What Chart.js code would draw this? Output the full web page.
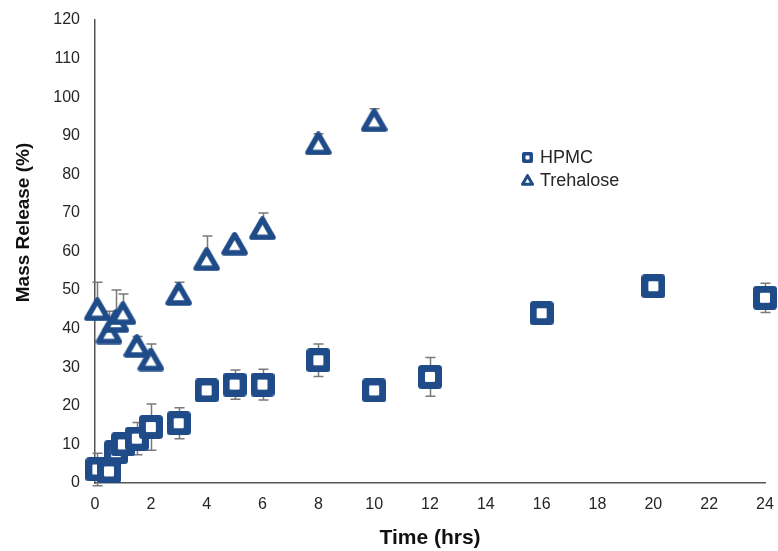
<!DOCTYPE html>
<html>
<head>
<meta charset="utf-8">
<title>Mass Release</title>
<script src="https://cdn.jsdelivr.net/npm/chart.js@4.4.1/dist/chart.umd.min.js"></script>
<style>
  html, body { margin: 0; padding: 0; background: #ffffff; }
  #wrap { width: 778px; height: 551px; }
</style>
</head>
<body>
<div id="wrap"><canvas id="chart" width="778" height="551"></canvas></div>
<script>
// Sampling times (hours) and mean mass release (%) with standard deviations
const timesHPMC = [0.083, 0.5, 0.75, 1, 1.5, 2, 3, 4, 5, 6, 8, 10, 12, 16, 20, 24];
const releaseHPMC = [3.5, 3, 8, 10, 11.5, 14.5, 15.5, 24, 25.5, 25.5, 31.8, 24, 27.5, 44, 51, 48];
const errorHPMC = [4.2, 1, 3, 2, 4.2, 6, 4, 0.5, 3.8, 4, 4.2, 0.5, 5, 0.5, 0.8, 3.8];

const timesTrehalose = [0.083, 0.5, 0.75, 1, 1.5, 2, 3, 4, 5, 6, 8, 10];
const releaseTrehalose = [45, 39, 42, 44, 35.5, 32, 49, 58, 62, 66, 88, 94];
const errorTrehalose = [7, 5.5, 8, 5, 2.5, 4, 3, 6, 1, 4, 2.5, 3];

// Axis tick values
const xTicks = [0, 2, 4, 6, 8, 10, 12, 14, 16, 18, 20, 22, 24];
const yTicks = [0, 10, 20, 30, 40, 50, 60, 70, 80, 90, 100, 110, 120];

const seriesNames = ['HPMC', 'Trehalose'];

const markerColor = '#1f4c89';
const errorColor = '#7a7a7a';
const axisColor = '#555555';
const textColor = '#262626';

// Hollow square marker with a thick rounded ring
function squareMarker(outer, hole, radius) {
  const c = document.createElement('canvas');
  c.width = outer; c.height = outer;
  const g = c.getContext('2d');
  g.fillStyle = markerColor;
  g.beginPath(); g.roundRect(0, 0, outer, outer, radius); g.fill();
  const o = (outer - hole) / 2;
  g.fillStyle = '#ffffff';
  g.beginPath(); g.roundRect(o, o, hole, hole, 1); g.fill();
  return c;
}

// Hollow triangle marker with a thick stroke and rounded joins
function triangleMarker(side, lw) {
  const h = side * 0.866;
  const c = document.createElement('canvas');
  c.width = Math.ceil(side + lw); c.height = Math.ceil(h + lw);
  const g = c.getContext('2d');
  const cx = c.width / 2, top = (c.height - h) / 2;
  g.lineWidth = lw; g.lineJoin = 'round';
  g.strokeStyle = markerColor; g.fillStyle = '#ffffff';
  g.beginPath();
  g.moveTo(cx, top);
  g.lineTo(cx + side / 2, top + h);
  g.lineTo(cx - side / 2, top + h);
  g.closePath();
  g.fill(); g.stroke();
  return c;
}

const squareBig = squareMarker(24, 10, 3.5);
const triangleBig = triangleMarker(21, 5.5);
const squareSmall = squareMarker(11, 4, 2);
const triangleSmall = triangleMarker(10, 3);

function toPoints(xs, ys) { return xs.map((x, i) => ({ x: x, y: ys[i] })); }

// Vertical error bars with caps, drawn beneath the markers
const errorBars = {
  id: 'errorBars',
  beforeDatasetsDraw(chart) {
    const ctx = chart.ctx;
    const ys = chart.scales.y;
    ctx.save();
    ctx.strokeStyle = errorColor;
    ctx.lineWidth = 1.5;
    chart.data.datasets.forEach((ds, di) => {
      const meta = chart.getDatasetMeta(di);
      meta.data.forEach((el, i) => {
        const v = ds.data[i].y, e = ds.errors[i];
        const yTop = ys.getPixelForValue(v + e);
        const yBot = ds.bothWays ? ys.getPixelForValue(v - e) : el.y;
        const x = Math.round(el.x) + 0.5;
        ctx.beginPath();
        ctx.moveTo(x, yTop); ctx.lineTo(x, yBot);
        ctx.moveTo(x - 5, yTop); ctx.lineTo(x + 5, yTop);
        if (ds.bothWays) { ctx.moveTo(x - 5, yBot); ctx.lineTo(x + 5, yBot); }
        ctx.stroke();
      });
    });
    ctx.restore();
  }
};

// Rotated y-axis title and the in-plot legend
const annotations = {
  id: 'annotations',
  afterDraw(chart) {
    const ctx = chart.ctx;
    const a = chart.chartArea;
    ctx.save();
    ctx.fillStyle = '#111111';
    ctx.font = 'bold 19px "Liberation Sans", Arial, sans-serif';
    ctx.textAlign = 'center';
    ctx.textBaseline = 'middle';
    ctx.translate(24, (a.top + a.bottom) / 2 - 29);
    ctx.rotate(-Math.PI / 2);
    ctx.fillText('Mass Release (%)', 0, 0);
    ctx.restore();

    const lx = a.left + 432, ly = a.top + 137, gap = 23;
    const icons = [squareSmall, triangleSmall];
    ctx.save();
    ctx.font = '18px "Liberation Sans", Arial, sans-serif';
    ctx.fillStyle = textColor;
    ctx.textAlign = 'left';
    ctx.textBaseline = 'middle';
    seriesNames.forEach((name, i) => {
      const img = icons[i];
      const y = ly + i * gap;
      ctx.drawImage(img, Math.round(lx - img.width / 2), Math.round(y - img.height / 2));
      ctx.fillText(name, lx + 13, y + 1);
    });
    ctx.restore();
  }
};

new Chart(document.getElementById('chart'), {
  type: 'scatter',
  data: {
    datasets: [
      {
        label: seriesNames[0],
        data: toPoints(timesHPMC, releaseHPMC),
        errors: errorHPMC,
        bothWays: true,
        pointStyle: squareBig,
        showLine: false,
        clip: false
      },
      {
        label: seriesNames[1],
        data: toPoints(timesTrehalose, releaseTrehalose),
        errors: errorTrehalose,
        bothWays: false,
        pointStyle: triangleBig,
        showLine: false,
        clip: false
      }
    ]
  },
  options: {
    responsive: false,
    devicePixelRatio: 1,
    animation: false,
    events: [],
    layout: { padding: { left: 0, top: 20, right: 13, bottom: 0 } },
    plugins: {
      legend: { display: false },
      tooltip: { enabled: false }
    },
    scales: {
      x: {
        type: 'linear',
        min: 0, max: 24,
        afterBuildTicks(scale) { scale.ticks = xTicks.map(v => ({ value: v })); },
        afterFit(scale) {
          scale.height = 68;
          scale.paddingLeft = 0;
          scale.paddingRight = 0;
        },
        grid: { display: false, drawTicks: false },
        border: { display: true, color: axisColor, width: 1.5 },
        ticks: {
          padding: 12,
          color: textColor,
          maxRotation: 0,
          autoSkip: false,
          font: { family: '"Liberation Sans", Arial, sans-serif', size: 16 }
        },
        title: {
          display: true,
          text: 'Time (hrs)',
          color: '#111111',
          padding: { top: 0, bottom: 0 },
          font: { family: '"Liberation Sans", Arial, sans-serif', size: 21, weight: 'bold' }
        }
      },
      y: {
        type: 'linear',
        min: 0, max: 120,
        afterBuildTicks(scale) { scale.ticks = yTicks.map(v => ({ value: v })); },
        afterFit(scale) {
          scale.width = 95;
          scale.paddingTop = 0;
          scale.paddingBottom = 0;
        },
        grid: { display: false, drawTicks: false },
        border: { display: true, color: axisColor, width: 1.5 },
        ticks: {
          padding: 15,
          color: textColor,
          autoSkip: false,
          font: { family: '"Liberation Sans", Arial, sans-serif', size: 16 }
        }
      }
    }
  },
  plugins: [errorBars, annotations]
});
</script>
</body>
</html>
